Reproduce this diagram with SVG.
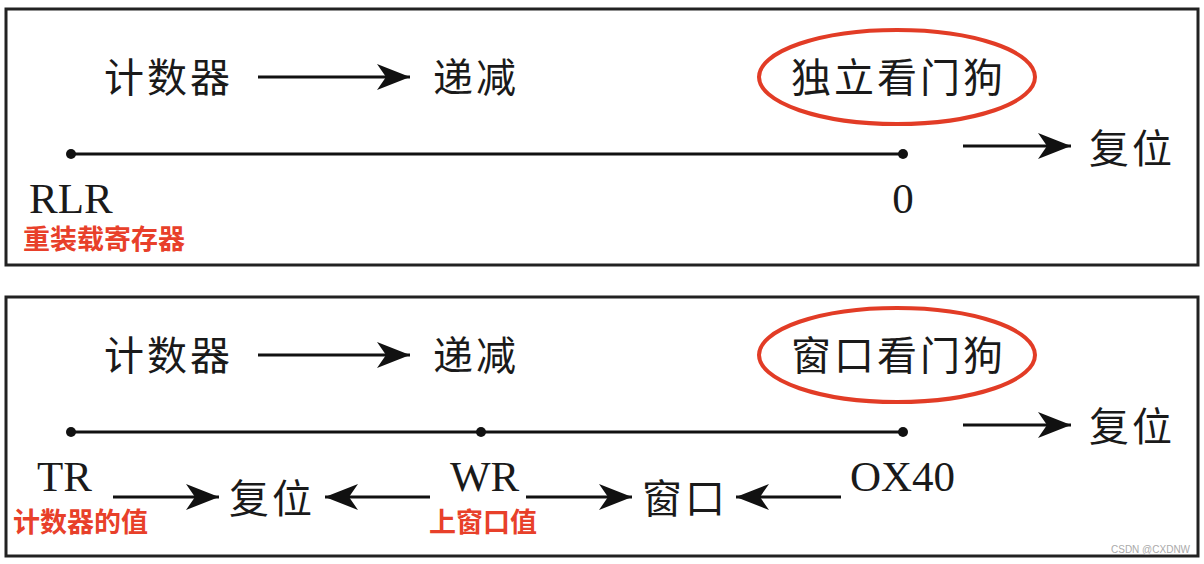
<svg xmlns="http://www.w3.org/2000/svg" width="1204" height="564" viewBox="0 0 1204 564">
<style>
.box{fill:none;stroke:#222;stroke-width:3}
.zh{font-family:"Noto Sans CJK SC","Noto Sans CJK JP",sans-serif;font-size:40px;fill:#1a1a1a;letter-spacing:3px}
.en{font-family:"Liberation Serif",serif;font-size:43px;fill:#1a1a1a}
.red{font-family:"Noto Sans CJK SC",sans-serif;font-size:27px;font-weight:bold;fill:#e8402a}
.oval{fill:none;stroke:#e23c26;stroke-width:4}
.ln{stroke:#111;stroke-width:3;fill:none}
.arr{stroke:#111;stroke-width:3;fill:none;marker-end:url(#ah)}
.dot{fill:#111}
.wm{font-family:"Liberation Sans",sans-serif;font-size:10px;fill:#aaa}
</style>
<defs>
<marker id="ah" markerUnits="userSpaceOnUse" markerWidth="40" markerHeight="32" viewBox="-2 -16 40 32" refX="33" refY="0" orient="auto">
<path d="M0,-13 L33,0 L0,13 L9,0 Z" fill="#111"/>
</marker>
</defs>
<rect x="0" y="0" width="1204" height="564" fill="#fff"/>
<g id="panel1">
<rect class="box" x="6" y="9" width="1192" height="256"/>
</g>
<g id="panel2">
<rect class="box" x="6" y="297" width="1192" height="259"/>
</g>
<g id="connectors">
<line class="arr" x1="258" y1="77" x2="410" y2="77"/>
<line class="arr" x1="963" y1="146" x2="1071" y2="146"/>
<line class="ln" x1="71" y1="154" x2="903" y2="154"/>
<line class="arr" x1="258" y1="355" x2="410" y2="355"/>
<line class="arr" x1="963" y1="425" x2="1071" y2="425"/>
<line class="ln" x1="71" y1="432" x2="903" y2="432"/>
<line class="arr" x1="113" y1="497" x2="219" y2="497"/>
<line class="arr" x1="430" y1="497" x2="325" y2="497"/>
<line class="arr" x1="526" y1="497" x2="632" y2="497"/>
<line class="arr" x1="841" y1="497" x2="736" y2="497"/>
</g>
<g id="dots">
<circle class="dot" cx="71" cy="154" r="5"/>
<circle class="dot" cx="903" cy="154" r="5"/>
<circle class="dot" cx="71" cy="432" r="5"/>
<circle class="dot" cx="481" cy="432" r="5"/>
<circle class="dot" cx="903" cy="432" r="5"/>
</g>
<g id="counter1"><text class="zh" x="104" y="92">计数器</text></g>
<g id="dec1"><text class="zh" x="433" y="92">递减</text></g>
<g id="iwdg"><ellipse class="oval" cx="897" cy="77" rx="138" ry="47"/><text class="zh" x="791" y="92">独立看门狗</text></g>
<g id="reset1"><text class="zh" x="1089" y="163">复位</text></g>
<g id="rlr"><text class="en" x="29" y="213">RLR</text><text class="red" x="23" y="249">重装载寄存器</text></g>
<g id="zero"><text class="en" x="903" y="213" text-anchor="middle">0</text></g>
<g id="counter2"><text class="zh" x="104" y="370">计数器</text></g>
<g id="dec2"><text class="zh" x="433" y="370">递减</text></g>
<g id="wwdg"><ellipse class="oval" cx="897" cy="355" rx="138" ry="47"/><text class="zh" x="791" y="370">窗口看门狗</text></g>
<g id="reset2"><text class="zh" x="1089" y="441">复位</text></g>
<g id="tr"><text class="en" x="37" y="491">TR</text><text class="red" x="13" y="532">计数器的值</text></g>
<g id="reset3"><text class="zh" x="229" y="513">复位</text></g>
<g id="wr"><text class="en" x="450" y="491">WR</text><text class="red" x="429" y="532">上窗口值</text></g>
<g id="window"><text class="zh" x="642" y="513">窗口</text></g>
<g id="ox40"><text class="en" x="850" y="491">OX40</text></g>
<text class="wm" x="1111" y="553">CSDN @CXDNW</text>
</svg>
